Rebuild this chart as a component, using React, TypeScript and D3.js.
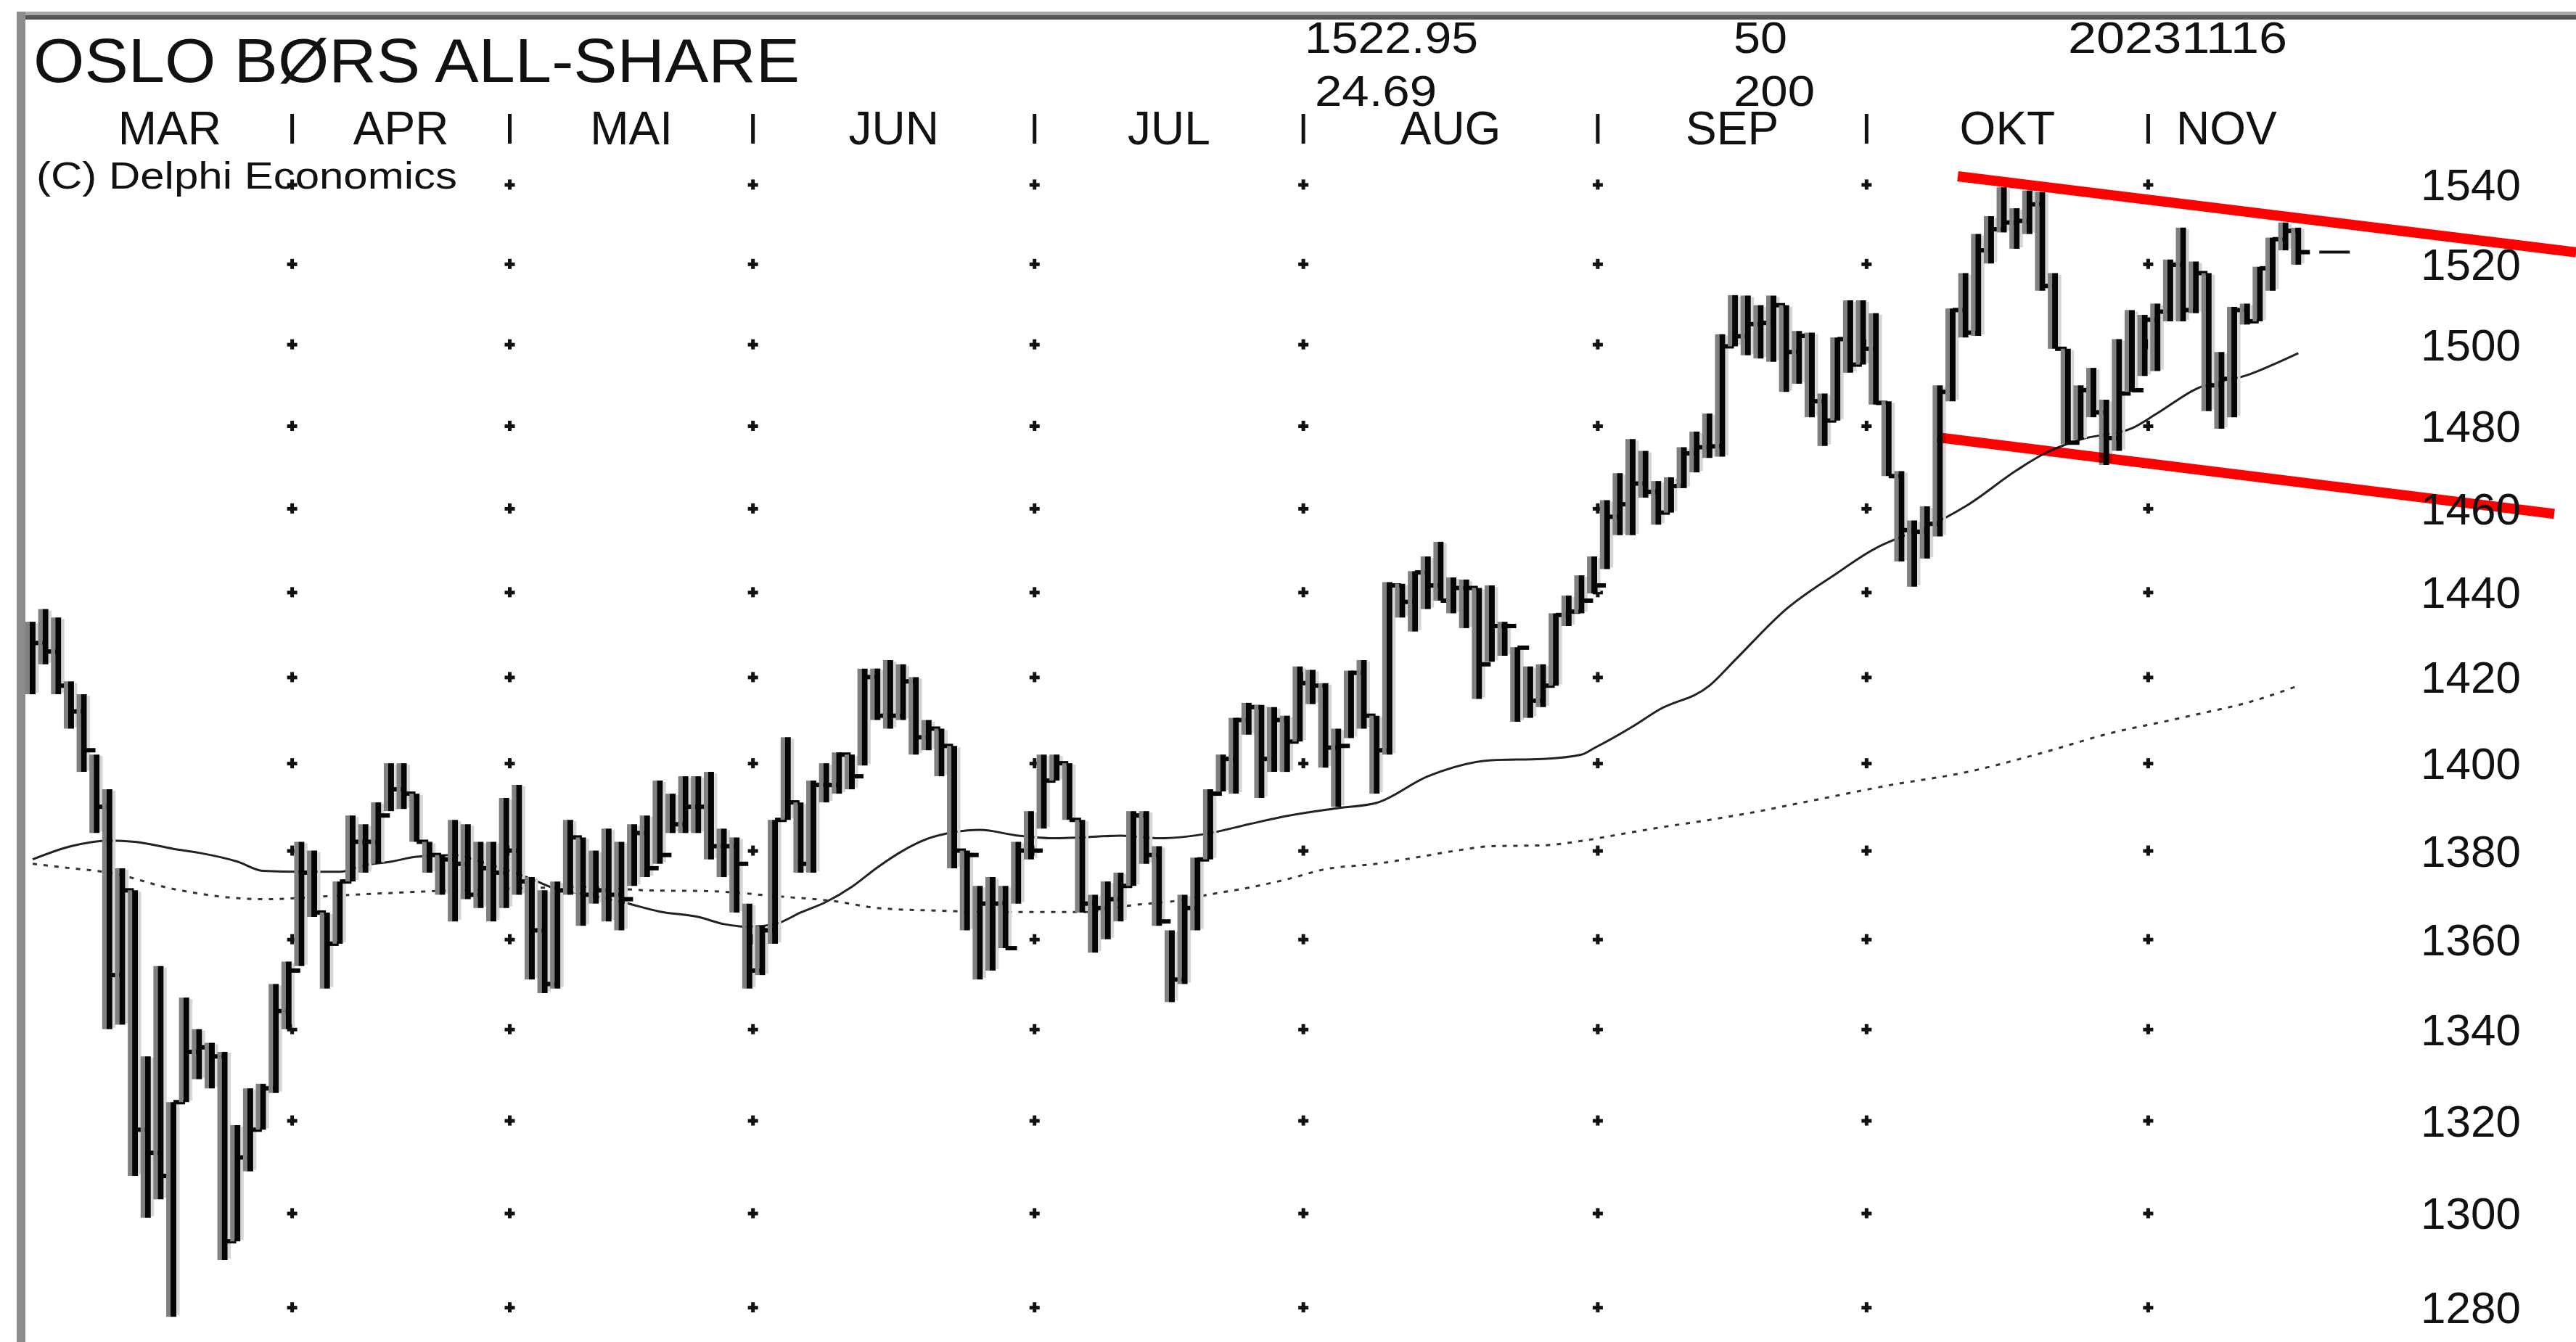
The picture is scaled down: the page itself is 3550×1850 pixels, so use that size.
import React, { useEffect, useRef } from 'react';
import * as d3 from 'd3';

// daily bars, 3 Mar 2023 .. 16 Nov 2023 (trading days)
const highs = [
  1433, 1436, 1434, 1419, 1416, 1402, 1394, 1376, 1371, 1334,
  1354, 1324, 1347, 1340, 1337, 1335, 1319, 1327, 1328, 1350,
  1355, 1382, 1380, 1366, 1373, 1388, 1386, 1391, 1400, 1400,
  1393, 1382, 1379, 1387, 1386, 1382, 1382, 1392, 1395, 1374,
  1371, 1373, 1387, 1383, 1380, 1385, 1382, 1386, 1388, 1396,
  1393, 1397, 1397, 1398, 1385, 1383, 1368, 1363, 1387, 1406,
  1391, 1396, 1400, 1402.5, 1402, 1422, 1422, 1424, 1423, 1420,
  1410, 1408, 1404, 1380, 1372, 1374, 1372, 1382, 1389, 1402,
  1402, 1400, 1387, 1370, 1373, 1375, 1389, 1389, 1381, 1362,
  1370, 1378.4, 1394, 1402, 1410.5, 1414, 1413.5, 1413, 1411, 1422.5,
  1421.7, 1418.6, 1408, 1421.5, 1424, 1411, 1442.4, 1442, 1445, 1448.5,
  1452, 1443.5, 1443, 1441, 1441.6, 1433, 1427, 1422.5, 1423, 1435,
  1439.2, 1444, 1448.5, 1462, 1468.5, 1476.8, 1473.9, 1466.6, 1467.5, 1474.8,
  1478.6, 1483, 1502.5, 1512.2, 1512.1, 1509.7, 1512.1, 1509.7, 1503.3, 1502.9,
  1487.9, 1501.7, 1510.9, 1510.9, 1507.7, 1486, 1469, 1457.1, 1460.5, 1489.9,
  1508.9, 1517.7, 1527.5, 1532, 1539.3, 1534, 1538.5, 1538.1, 1517.7, 1498.9,
  1489.9, 1494.2, 1486.4, 1501.3, 1508.5, 1507.3, 1510.1, 1521.1, 1529.1, 1520.6,
  1517.7, 1498.1, 1509.3, 1510.1, 1519.3, 1526.6, 1530.4, 1529.1,
];

const lows = [
  1416, 1423, 1416, 1408, 1398, 1384, 1340, 1341, 1308, 1299,
  1303, 1278, 1324, 1329, 1327, 1290, 1294, 1309, 1318, 1326,
  1340, 1354, 1365, 1349, 1359, 1373, 1375, 1377, 1389, 1389.5,
  1382, 1375, 1370, 1364, 1369, 1367, 1364, 1367, 1370, 1351,
  1348, 1349, 1370, 1363, 1368, 1364, 1362, 1372, 1374, 1377,
  1384, 1384, 1384, 1378, 1374, 1366, 1349, 1352, 1359, 1387,
  1375, 1375, 1391, 1393, 1394, 1399.5, 1410, 1408, 1410, 1402,
  1403, 1397, 1376, 1362, 1351, 1353, 1358, 1368, 1378, 1385,
  1396, 1387, 1366, 1357, 1360, 1364, 1372, 1377, 1363, 1346,
  1350, 1362, 1378, 1393.5, 1393, 1406.6, 1392, 1398, 1398, 1405,
  1413.7, 1399, 1390, 1405.8, 1408, 1393, 1402, 1434, 1430.7, 1436,
  1438, 1435, 1431.5, 1414.9, 1423.6, 1425, 1409.6, 1410.5, 1413, 1418,
  1432, 1435, 1439.7, 1445.5, 1453.6, 1453.6, 1462.6, 1456.1, 1459, 1464.9,
  1468.7, 1472.2, 1472.5, 1499.5, 1497.3, 1496.5, 1495.7, 1488.3, 1490.3, 1482.1,
  1475.1, 1481.3, 1493, 1495, 1485.2, 1467.8, 1447.3, 1441.3, 1448, 1453.3,
  1486, 1501.7, 1502.1, 1520.1, 1527.9, 1523.8, 1527.5, 1513.3, 1498.9, 1475.5,
  1476.6, 1482.1, 1470.5, 1473.9, 1488.3, 1492.2, 1493.4, 1505.7, 1505.7, 1507.7,
  1483.6, 1479.3, 1482.1, 1504.9, 1505.7, 1513.3, 1523.4, 1519.8,
];

const closes = [
  1428, 1426, 1418, 1412, 1403, 1390, 1352, 1371, 1318, 1313,
  1308, 1324, 1335, 1336, 1334, 1294, 1312, 1318, 1327, 1344,
  1353, 1375, 1366, 1359, 1373, 1382, 1382, 1388, 1394, 1393,
  1382, 1379, 1378, 1377, 1370, 1376, 1375, 1380, 1373, 1362,
  1350, 1371, 1383, 1370, 1371, 1370, 1369, 1384, 1376, 1379,
  1386, 1390, 1390, 1381, 1381, 1377, 1353, 1362, 1387, 1391,
  1377, 1395, 1395, 1402, 1397, 1420, 1411, 1411, 1419, 1406,
  1408, 1404, 1380, 1379, 1368, 1368, 1358, 1380, 1380, 1396,
  1400, 1387, 1368, 1367, 1369, 1372, 1388, 1379, 1364, 1351,
  1367, 1378, 1393, 1401, 1410, 1413, 1401, 1410, 1405, 1418.6,
  1418, 1403.6, 1404, 1421, 1411, 1403, 1441.6, 1437.7, 1444.7, 1441.6,
  1438, 1441, 1441, 1423, 1432, 1432, 1426.9, 1414.5, 1418, 1434.6,
  1435.4, 1438, 1441.6, 1458, 1461, 1466, 1464, 1459, 1465.4, 1473.3,
  1474.8, 1475, 1499.5, 1502, 1505, 1505.3, 1509.7, 1498.1, 1502.1, 1486,
  1481.3, 1501.3, 1495, 1498.9, 1485.6, 1467.8, 1454.8, 1454.4, 1456.3, 1488.3,
  1508.5, 1502.9, 1523.4, 1528.7, 1530.4, 1530.8, 1535, 1514.5, 1498.9, 1475.9,
  1488.7, 1483.3, 1477, 1487.9, 1488.7, 1506.1, 1508.1, 1519.8, 1508.5, 1517.7,
  1489.9, 1491.5, 1508.5, 1505.7, 1518.9, 1526.2, 1528.3, 1522.95,
];

const monthNames = ['MAR', 'APR', 'MAI', 'JUN', 'JUL', 'AUG', 'SEP', 'OKT', 'NOV'];
const monthDays = [21, 17, 19, 22, 21, 23, 21, 22, 12];

const priceTicks = [1280, 1300, 1320, 1340, 1360, 1380, 1400, 1420, 1440, 1460, 1480, 1500, 1520, 1540];

// moving averages: [bar index, value]
const ma50 = [
  [0, 1378], [3, 1381], [6, 1382.3], [8, 1382], [11, 1380.4], [13, 1379.5], [16, 1377.5],
  [18, 1375.4], [21, 1375.2], [24, 1375.2], [26, 1376.7], [28, 1377.5], [30, 1378.6], [33, 1379],
  [35, 1377.5], [37, 1375.7], [39, 1373.5], [41, 1371.2], [43, 1370.2], [46, 1368.4], [49, 1366.2],
  [52, 1365], [54, 1363.4], [56, 1362.8], [58, 1363.4], [60, 1366], [62, 1368.4], [64, 1371.8],
  [66, 1376.2], [68, 1380], [70, 1382.8], [72, 1384.2], [74, 1384.7], [77, 1383.4], [80, 1382.8],
  [82, 1383], [85, 1383.4], [88, 1382.8], [92, 1384], [95, 1386], [98, 1387.9], [102, 1389.7],
  [105, 1390.9], [109, 1397], [114, 1400.7], [118, 1401], [121, 1402], [122, 1403.5], [125, 1408.5],
  [127, 1412.3], [131, 1418], [133, 1424], [137, 1436], [141, 1444.6], [144, 1450.5], [146, 1453.2],
  [148, 1455.6], [151, 1460.5], [155, 1469.2], [157, 1473], [160, 1476.7], [164, 1479.4],
  [166, 1483.1], [169, 1489], [173, 1492.4], [177, 1497.8],
];

const ma200 = [
  [0, 1377], [3, 1376], [6, 1375], [11, 1371.3], [18, 1369], [25, 1370], [33, 1371], [40, 1371.6],
  [43, 1371.8], [48, 1371], [53, 1370.8], [58, 1369.7], [63, 1368.4], [66, 1367], [71, 1366.4],
  [76, 1366.1], [82, 1366.1], [86, 1367.7], [89, 1368.5], [92, 1370.1], [95, 1371.6], [98, 1373.5],
  [101, 1375.8], [105, 1377], [108, 1378.4], [111, 1379.9], [114, 1381], [118, 1381.2], [121, 1382.2],
  [124, 1383.7], [127, 1385.2], [131, 1387], [134, 1388.5], [139, 1391.4], [145, 1394.9],
  [151, 1397.9], [157, 1402.4], [162, 1406.7], [168, 1410.6], [174, 1414.9], [177, 1418],
];

// hand drawn channel: [bar index, price]
const trendUpper = [[150.4, 1542.1], [198.7, 1522.9]];
const trendLower = [[148.8, 1477.2], [197.0, 1458.7]];

const lastClose = 1522.95;
const headerTop = ['1522.95', '50', '20231116'];
const headerBottom = ['24.69', '200'];

const W = 3550;
const H = 1850;
const FONT = '"Liberation Sans", Arial, sans-serif';

const App = () => {
  const ref = useRef<SVGSVGElement>(null);

  useEffect(() => {
    draw();
  });

  const draw = () => {
    const svg = d3.select(ref.current);
    svg.selectAll('*').remove();

    const n = closes.length;
    const step = 17.64;
    const x = d3.scaleLinear().domain([0, n - 1]).range([45, 45 + (n - 1) * step]);
    const y = d3.scaleLog().domain([1280, 1540]).range([1802.2, 254.4]);

    svg.append('rect').attr('width', W).attr('height', H).attr('fill', '#fff');

    // month separators
    const ends = d3.cumsum(monthDays);
    const seps = Array.from(ends).slice(0, -1).map((e) => x(e - 0.5) - 4);
    const bounds = [x(0) + 20, ...seps, x(n - 1) + 9];

    // grid dots
    const dots = svg.append('g');
    seps.forEach((sx) => {
      priceTicks.forEach((p) => {
        const py = y(p);
        dots.append('rect').attr('x', sx - 7).attr('y', py - 2).attr('width', 14).attr('height', 5).attr('fill', '#111');
        dots.append('rect').attr('x', sx - 2.5).attr('y', py - 7).attr('width', 5).attr('height', 14).attr('fill', '#111');
      });
    });

    // moving averages
    const maLine = d3
      .line<number[]>()
      .x((d) => x(d[0]))
      .y((d) => y(d[1]))
      .curve(d3.curveMonotoneX);

    svg.append('path').attr('d', maLine(ma200)).attr('fill', 'none')
      .attr('stroke', '#333').attr('stroke-width', 3).attr('stroke-dasharray', '6 9');
    svg.append('path').attr('d', maLine(ma50)).attr('fill', 'none')
      .attr('stroke', '#222').attr('stroke-width', 3);

    // high-low-close bars
    const bars = svg.append('g');
    d3.range(n).forEach((i) => {
      const bx = x(i);
      bars.append('line').attr('x1', bx - 7).attr('x2', bx - 7)
        .attr('y1', y(highs[i])).attr('y2', y(lows[i]))
        .attr('stroke', '#808080').attr('stroke-width', 6);
      bars.append('line').attr('x1', bx + 6.5).attr('x2', bx + 6.5)
        .attr('y1', y(highs[i]) + 2).attr('y2', y(lows[i]) - 2)
        .attr('stroke', '#d6d6d6').attr('stroke-width', 4);
      bars.append('line').attr('x1', bx).attr('x2', bx)
        .attr('y1', y(highs[i])).attr('y2', y(lows[i]))
        .attr('stroke', '#050505').attr('stroke-width', 8);
      bars.append('line').attr('x1', bx).attr('x2', bx + 16)
        .attr('y1', y(closes[i])).attr('y2', y(closes[i]))
        .attr('stroke', '#050505').attr('stroke-width', 6);
    });

    // last close marker
    svg.append('line')
      .attr('x1', x(n - 1) + 29).attr('x2', x(n - 1) + 71)
      .attr('y1', y(lastClose)).attr('y2', y(lastClose))
      .attr('stroke', '#111').attr('stroke-width', 4);

    // red channel
    [trendUpper, trendLower].forEach((t) => {
      svg.append('line')
        .attr('x1', x(t[0][0])).attr('y1', y(t[0][1]))
        .attr('x2', x(t[1][0])).attr('y2', y(t[1][1]))
        .attr('stroke', '#ff0000').attr('stroke-width', 14)
        .style('mix-blend-mode', 'multiply');
    });

    // price labels
    svg.append('g').selectAll('text').data(priceTicks).enter().append('text')
      .attr('x', 3336).attr('y', (d) => y(d) + 22)
      .attr('font-family', FONT).attr('font-size', 62).attr('fill', '#111')
      .text((d) => d);

    // month labels and header ticks
    monthNames.forEach((m, k) => {
      svg.append('text')
        .attr('x', (bounds[k] + bounds[k + 1]) / 2).attr('y', 199)
        .attr('text-anchor', 'middle')
        .attr('font-family', FONT).attr('font-size', 64).attr('fill', '#111')
        .text(m);
    });
    seps.forEach((sx) => {
      svg.append('rect').attr('x', sx - 2.5).attr('y', 157).attr('width', 5).attr('height', 41).attr('fill', '#111');
    });

    // title block
    svg.append('text').attr('x', 46).attr('y', 113)
      .attr('font-family', FONT).attr('font-size', 86).attr('fill', '#111')
      .attr('textLength', 1056).attr('lengthAdjust', 'spacingAndGlyphs')
      .text('OSLO BØRS ALL-SHARE');
    svg.append('text').attr('x', 50).attr('y', 260)
      .attr('font-family', FONT).attr('font-size', 52).attr('fill', '#111')
      .attr('textLength', 580).attr('lengthAdjust', 'spacingAndGlyphs')
      .text('(C) Delphi Economics');

    const topX = [1798, 2389, 2850];
    const topLen = [239, 74, 302];
    headerTop.forEach((t, k) => {
      svg.append('text').attr('x', topX[k]).attr('y', 73)
        .attr('font-family', FONT).attr('font-size', 62).attr('fill', '#111')
        .attr('textLength', topLen[k]).attr('lengthAdjust', 'spacingAndGlyphs')
        .text(t);
    });
    const botX = [1812, 2389];
    const botLen = [168, 112];
    headerBottom.forEach((t, k) => {
      svg.append('text').attr('x', botX[k]).attr('y', 146)
        .attr('font-family', FONT).attr('font-size', 60).attr('fill', '#111')
        .attr('textLength', botLen[k]).attr('lengthAdjust', 'spacingAndGlyphs')
        .text(t);
    });

    // frame (top and left edges)
    svg.append('rect').attr('x', 23).attr('y', 16).attr('width', W - 23).attr('height', 5).attr('fill', '#a8a8a8');
    svg.append('rect').attr('x', 30).attr('y', 21).attr('width', W - 30).attr('height', 6).attr('fill', '#555');
    svg.append('rect').attr('x', 23).attr('y', 16).attr('width', 12).attr('height', H - 16).attr('fill', '#8c8c8c');
  };

  return (
    <svg
      ref={ref}
      width={W}
      height={H}
      style={{ position: 'absolute', left: 0, top: 0, display: 'block' }}
    />
  );
};

export default App;
